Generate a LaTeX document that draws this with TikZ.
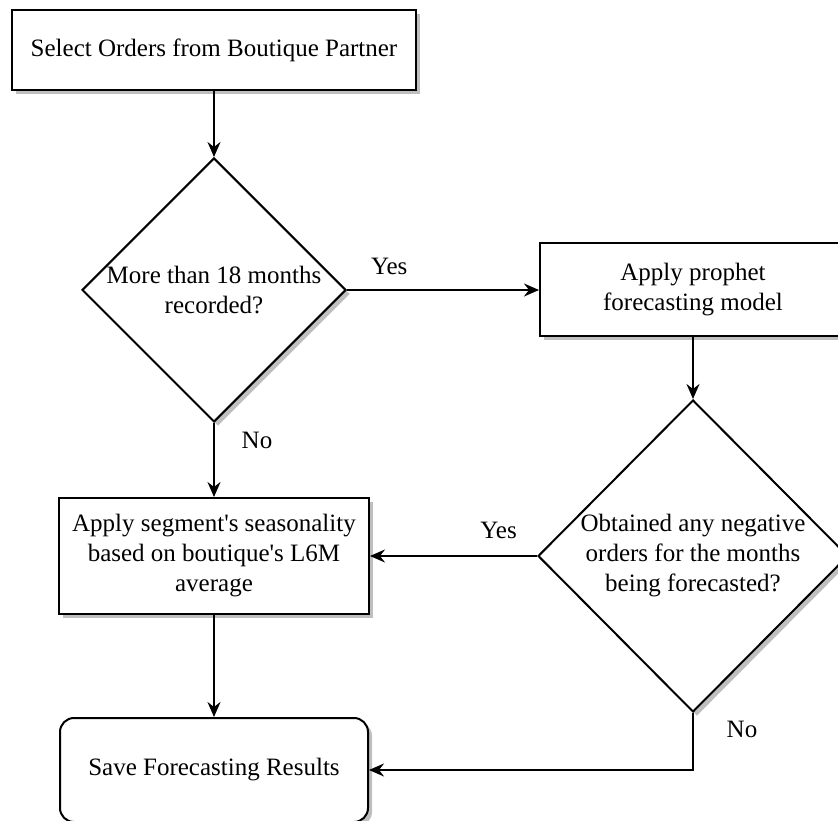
\documentclass[tikz,border=0pt]{standalone}
\usepackage{fontspec}
\setmainfont{Liberation Serif}
\usetikzlibrary{arrows.meta,shapes.geometric,shadows}

\begin{document}
\begin{tikzpicture}[x=1pt, y=1pt, line width=2pt,
    >={Stealth[length=15pt, width=13pt, inset=5pt]},
    font=\fontsize{25}{30}\selectfont,
    box/.style={draw, fill=white, align=center, inner sep=0pt,
        drop shadow={shadow xshift=4pt, shadow yshift=-4pt, fill=black!25, opacity=1}},
    decision/.style={box, diamond}]
    \useasboundingbox (0,0) rectangle (838,820);

    \node[box, minimum width=404pt, minimum height=80pt] (select) at (214,770)
        {Select Orders from Boutique Partner};
    \node[decision, minimum width=264pt, minimum height=264pt] (recorded) at (214,530) {};
    \node[align=center] (recordedtxt) at (recorded) {More than 18 months\\recorded?};
    \node[box, minimum width=306pt, minimum height=93pt] (prophet) at (693,530)
        {Apply prophet\\forecasting model};
    \node[decision, minimum width=310pt, minimum height=312pt] (negative) at (693,264) {};
    \node[align=center] (negativetxt) at (negative)
        {Obtained any negative\\orders for the months\\being forecasted?};
    \node[box, minimum width=310pt, minimum height=116pt] (season) at (214,264)
        {Apply segment\textquotesingle s seasonality\\based on boutique\textquotesingle s L6M\\average};
    \node[box, rounded corners=14pt, minimum width=308pt, minimum height=104pt] (saveres) at (214,50)
        {Save Forecasting Results};

    \draw[->] (select.south) -- (recorded.north);
    \draw[->] (recorded.east) -- (prophet.west) node[pos=0.22, yshift=24pt] {Yes};
    \draw[->] (prophet.south) -- (negative.north);
    \draw[->] (recorded.south) -- (season.north) node[pos=0.24, xshift=43pt] {No};
    \draw[->] (negative.west) -- (season.east) node[pos=0.23, yshift=26pt] {Yes};
    \draw[->] (season.south) -- (saveres.north);
    \draw[->] (negative.south) |- (saveres.east) node[pos=0.14, xshift=49pt] {No};
\end{tikzpicture}
\end{document}
